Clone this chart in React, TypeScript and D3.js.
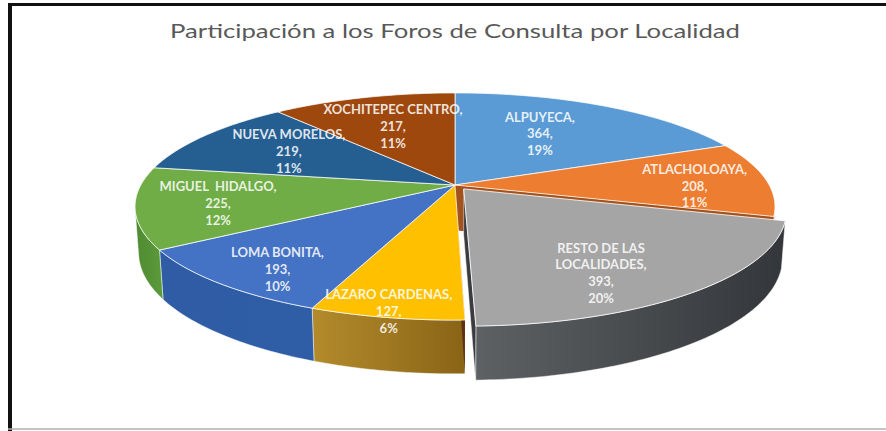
import React from "react";
import * as d3 from "d3";

const title = "Participación a los Foros de Consulta por Localidad";
const categories = [
  "ALPUYECA",
  "ATLACHOLOAYA",
  "RESTO DE LAS LOCALIDADES",
  "LAZARO CARDENAS",
  "LOMA BONITA",
  "MIGUEL  HIDALGO",
  "NUEVA MORELOS",
  "XOCHITEPEC CENTRO",
];
const values = [364, 208, 393, 127, 193, 225, 219, 217];
const percentLabels = ["19%", "11%", "20%", "6%", "10%", "12%", "11%", "11%"];
const nameLines = [
  ["ALPUYECA,"],
  ["ATLACHOLOAYA,"],
  ["RESTO DE LAS", "LOCALIDADES,"],
  ["LAZARO CARDENAS,"],
  ["LOMA BONITA,"],
  ["MIGUEL  HIDALGO,"],
  ["NUEVA MORELOS,"],
  ["XOCHITEPEC CENTRO,"],
];
const explodedIndex = 2;

// styles
const topColors = ["#5B9BD5", "#ED7D31", "#A5A5A5", "#FFC000", "#4472C4", "#70AD47", "#255E91", "#9E480E"];
const sideLeft = ["#4a85bd", "#c9651f", "#5e6164", "#b38b2c", "#2f5ca4", "#4f8a31", "#1f4f7c", "#7e390b"];
const sideRight = ["#3c74a8", "#b35718", "#33363a", "#8a6416", "#2f5ea6", "#5c9b3c", "#1a4369", "#6a300a"];
const radialWall = ["#3c74a8", "#a4521b", "#3a3c3f", "#5c3114", "#2c5aa0", "#4f8a31", "#1a4369", "#6a300a"];
const labelR = [0.58, 0.76, 0.77, 0.97, 0.84, 0.75, 0.64, 0.62];
const labelDA = [-3, 5.0, 8.7, 0, -4, -2, -0.6, -0.6];

const W = 886;
const H = 431;
const CX = 455;
const CY = 185;
const PHI = (20.4 * Math.PI) / 180;
const S = Math.sin(PHI);
const C = Math.cos(PHI);
const DIST = 4.949;
const F = 1554.8;
const THICK = 0.155;
const EXPLODE = 0.045;

function proj(x: number, y: number, z: number): [number, number] {
  const depth = DIST - (y * S + z * C);
  return [CX + (F * x) / depth, CY - (F * (y * C - z * S)) / depth];
}

function rimPoint(theta: number, r: number, y: number, off: [number, number]): [number, number] {
  return proj(off[0] + r * Math.sin(theta), y, off[1] - r * Math.cos(theta));
}

function arcPts(a0: number, a1: number, y: number, off: [number, number]): [number, number][] {
  const n = Math.max(2, Math.ceil(Math.abs(a1 - a0) / (Math.PI / 180)));
  const pts: [number, number][] = [];
  for (let i = 0; i <= n; i++) {
    const t = a0 + ((a1 - a0) * i) / n;
    pts.push(rimPoint(t, 1, y, off));
  }
  return pts;
}

const line = d3.line<[number, number]>().x((d) => d[0]).y((d) => d[1]);

export default function App() {
  const pie = d3.pie<number>().sort(null).startAngle(0).endAngle(2 * Math.PI);
  const arcs = pie(values);
  const visLimit = Math.acos(-1 / (DIST * C));
  const visA = visLimit;
  const visB = 2 * Math.PI - visLimit;

  const offsetOf = (i: number): [number, number] => {
    if (i !== explodedIndex) return [0, 0];
    const m = (arcs[i].startAngle + arcs[i].endAngle) / 2;
    return [EXPLODE * Math.sin(m), -EXPLODE * Math.cos(m)];
  };

  const outerWall = (i: number) => {
    const a = arcs[i];
    const t0 = Math.max(a.startAngle, visA);
    const t1 = Math.min(a.endAngle, visB);
    if (t1 <= t0) return null;
    const off = offsetOf(i);
    const top = arcPts(t0, t1, 0, off);
    const bot = arcPts(t1, t0, -THICK, off);
    const pts = top.concat(bot);
    const xs = pts.map((p) => p[0]);
    return { d: line(pts) + "Z", x0: d3.min(xs)!, x1: d3.max(xs)! };
  };

  const radial = (i: number, theta: number) => {
    const off = offsetOf(i);
    const pts: [number, number][] = [
      proj(off[0], 0, off[1]),
      rimPoint(theta, 1, 0, off),
      rimPoint(theta, 1, -THICK, off),
      proj(off[0], -THICK, off[1]),
    ];
    return line(pts) + "Z";
  };

  const topFace = (i: number) => {
    const a = arcs[i];
    const off = offsetOf(i);
    const pts = [proj(off[0], 0, off[1]) as [number, number]].concat(arcPts(a.startAngle, a.endAngle, 0, off));
    return line(pts) + "Z";
  };

  const main = arcs.map((_, i) => i).filter((i) => i !== explodedIndex);
  const ex = explodedIndex;

  const walls = arcs.map((_, i) => outerWall(i));

  const gradients = walls.map((w, i) =>
    w ? (
      <linearGradient key={i} id={`side${i}`} gradientUnits="userSpaceOnUse" x1={w.x0} x2={w.x1} y1={0} y2={0}>
        <stop offset="0%" stopColor={sideLeft[i]} />
        <stop offset="100%" stopColor={sideRight[i]} />
      </linearGradient>
    ) : null
  );

  const labels = arcs.map((a, i) => {
    const m = (a.startAngle + a.endAngle) / 2 + (labelDA[i] * Math.PI) / 180;
    const off = offsetOf(i);
    const [x, y] = rimPoint(m, labelR[i], 0, off);
    const lines = [...nameLines[i], `${values[i]},`, percentLabels[i]];
    const lh = 16.8;
    const y0 = y - ((lines.length - 1) * lh) / 2;
    return (
      <text
        key={i}
        x={x}
        y={y0}
        textAnchor="middle"
        fill="#ffffff"
        fillOpacity={0.86}
        fontFamily="Lato, 'Open Sans', sans-serif"
        fontWeight="bold"
        fontSize={13}
        style={{ whiteSpace: "pre" }}
      >
        {lines.map((l, k) => (
          <tspan key={k} x={x} y={y0 + k * lh} dominantBaseline="middle">
            {l}
          </tspan>
        ))}
      </text>
    );
  });

  const prevOfEx = (ex - 1 + arcs.length) % arcs.length;
  const nextOfEx = (ex + 1) % arcs.length;

  return (
    <svg width={W} height={H} style={{ position: "absolute", left: 0, top: 0, background: "#fff" }}>
      <defs>{gradients}</defs>
      <rect x={0} y={0} width={W} height={H} fill="#fff" />
      {/* frame */}
      <line x1={10} y1={3} x2={10} y2={H} stroke="#111" strokeWidth={4} />
      <line x1={8} y1={4.5} x2={W} y2={4.5} stroke="#111" strokeWidth={3} />
      <line x1={8} y1={429} x2={W} y2={429} stroke="#b0b0b0" strokeWidth={1.5} />
      <text
        x={CX}
        y={37.5}
        textAnchor="middle"
        fill="#595959"
        fontFamily="Lato, 'Open Sans', sans-serif"
        fontSize={20}
        textLength={570}
        lengthAdjust="spacingAndGlyphs"
      >
        {title}
      </text>
      {/* outer walls of main body */}
      {main.map((i) =>
        walls[i] ? (
          <path key={`w${i}`} d={walls[i]!.d} fill={`url(#side${i})`} stroke="#ffffff" strokeOpacity={0.6} strokeWidth={0.8} />
        ) : null
      )}
      {/* hole walls */}
      <path d={radial(prevOfEx, arcs[prevOfEx].endAngle)} fill={radialWall[prevOfEx]} />
      <path d={radial(nextOfEx, arcs[nextOfEx].startAngle)} fill={radialWall[nextOfEx]} />
      {/* main tops */}
      {main.map((i) => (
        <path key={`t${i}`} d={topFace(i)} fill={topColors[i]} stroke="#ffffff" strokeOpacity={0.75} strokeWidth={1} />
      ))}
      {/* exploded slice */}
      {walls[ex] ? (
        <path d={walls[ex]!.d} fill={`url(#side${ex})`} stroke="#ffffff" strokeOpacity={0.6} strokeWidth={0.8} />
      ) : null}
      <path d={radial(ex, arcs[ex].endAngle)} fill={radialWall[ex]} stroke="#ffffff" strokeOpacity={0.6} strokeWidth={0.8} />
      <path d={topFace(ex)} fill={topColors[ex]} stroke="#ffffff" strokeOpacity={0.8} strokeWidth={1} />
      {labels}
    </svg>
  );
}
